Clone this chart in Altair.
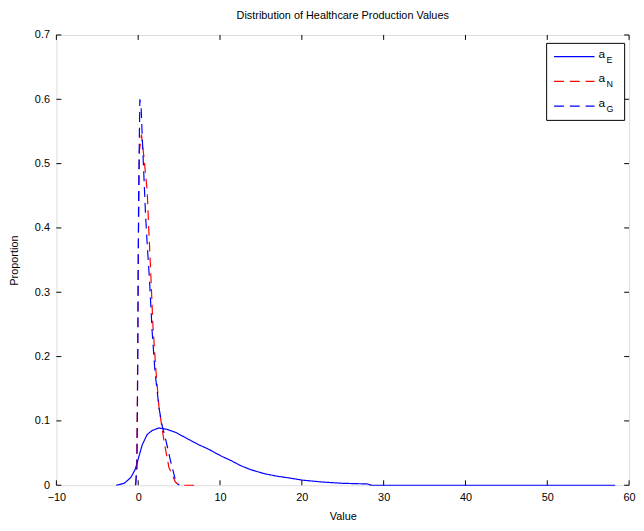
import altair as alt
import pandas as pd

# ---------------- data ----------------
title_text = "Distribution of Healthcare Production Values"
x_title = "Value"
y_title = "Proportion"
x_ticks = [-10, 0, 10, 20, 30, 40, 50, 60]
y_ticks = [0, 0.1, 0.2, 0.3, 0.4, 0.5, 0.6, 0.7]

series_names = ["a_E", "a_N", "a_G"]
legend_main = ["a", "a", "a"]
legend_sub = ["E", "N", "G"]

aE_x = [-2.7, -1.7, -0.9, -0.35, 0.05, 0.5, 1.1, 1.7, 2.5, 3.5, 4.6, 6.2, 7.4, 8.6,
        10.2, 11.4, 12.6, 13.8, 15.4, 17.0, 18.6, 20.0, 22.5, 25.0, 28.0, 28.5, 58.3]
aE_y = [0.0, 0.003, 0.012, 0.025, 0.043, 0.063, 0.079, 0.085, 0.089, 0.087, 0.082, 0.071,
        0.063, 0.056, 0.045, 0.038, 0.030, 0.024, 0.018, 0.014, 0.011, 0.008, 0.005,
        0.003, 0.002, 0.0, 0.0]

aN_x = [-0.35, -0.2, -0.1, 0.0, 0.15, 0.4, 0.7, 1.1, 1.3, 1.55, 1.8, 2.15, 2.55, 3.15,
        3.75, 4.55, 5.0, 7.0]
aN_y = [0.0, 0.02, 0.13, 0.35, 0.52, 0.545, 0.51, 0.457, 0.396, 0.325, 0.248, 0.181,
        0.12, 0.069, 0.028, 0.005, 0.0, 0.0]

aG_x = [-0.3, -0.15, -0.05, 0.05, 0.2, 0.35, 0.5, 0.9, 1.1, 1.4, 1.7, 2.05, 2.55, 2.9,
        3.4, 3.95, 4.55, 5.0]
aG_y = [0.0, 0.03, 0.2, 0.45, 0.60, 0.59, 0.54, 0.42, 0.375, 0.315, 0.24, 0.177, 0.12,
        0.094, 0.069, 0.038, 0.008, 0.0]

series_x = [aE_x, aN_x, aG_x]
series_y = [aE_y, aN_y, aG_y]

# ---------------- styles ----------------
colors = ["#0000ff", "#ff0000", "#0000ff"]
dashes = [[1, 0], [10, 6], [10, 6]]
FONT = "Liberation Sans"
W, H = 580, 456
TICK = 5

x_scale = alt.Scale(domain=[-10, 60], nice=False, zero=False)
y_scale = alt.Scale(domain=[0, 0.7], nice=False, zero=False)

x_axis = alt.Axis(values=x_ticks, title=x_title, ticks=False, tickSize=0, domain=False,
                  grid=False, labelPadding=6, titlePadding=9, labelFlush=False,
                  labelOverlap=False, labelFontSize=11, titleFontSize=11,
                  labelFont=FONT, titleFont=FONT, labelColor="#000", titleColor="#000",
                  titleFontWeight="normal")
y_axis = alt.Axis(values=y_ticks, title=y_title, ticks=False, tickSize=0, domain=False,
                  grid=False, labelPadding=7, titlePadding=15, labelFlush=False,
                  labelOverlap=False, labelFontSize=11, titleFontSize=11,
                  labelFont=FONT, titleFont=FONT, labelColor="#000", titleColor="#000",
                  titleFontWeight="normal",
                  labelExpr="datum.value == 0 ? '0' : format(datum.value, '.1f')")

layers = []

# curves
for name, xs, ys, c, d in zip(series_names, series_x, series_y, colors, dashes):
    df = pd.DataFrame({"x": xs, "y": ys, "i": list(range(len(xs))), "series": name})
    layers.append(
        alt.Chart(df).mark_line(color=c, strokeDash=d, strokeWidth=1.2).encode(
            x=alt.X("x:Q", scale=x_scale, axis=x_axis),
            y=alt.Y("y:Q", scale=y_scale, axis=y_axis),
            order="i:Q",
        )
    )

# inward ticks (MATLAB-style box)
xt = pd.DataFrame({"x": x_ticks})
yt = pd.DataFrame({"y": y_ticks})
tick_style = dict(color="#000", strokeWidth=1)
layers.append(alt.Chart(xt).mark_rule(**tick_style).encode(
    x=alt.X("x:Q", scale=x_scale, axis=x_axis), y=alt.value(H), y2=alt.value(H - TICK)))
layers.append(alt.Chart(xt).mark_rule(**tick_style).encode(
    x=alt.X("x:Q", scale=x_scale, axis=x_axis), y=alt.value(0), y2=alt.value(TICK)))
layers.append(alt.Chart(yt).mark_rule(**tick_style).encode(
    y=alt.Y("y:Q", scale=y_scale, axis=y_axis), x=alt.value(0), x2=alt.value(TICK)))
layers.append(alt.Chart(yt).mark_rule(**tick_style).encode(
    y=alt.Y("y:Q", scale=y_scale, axis=y_axis), x=alt.value(W), x2=alt.value(W - TICK)))

# legend box
LX0, LX1, LY0, LY1 = 496.5, 575.5, 8.5, 86.5
one = pd.DataFrame({"k": [0]})
layers.append(alt.Chart(one).mark_rect(fill="white", stroke="#000", strokeWidth=1).encode(
    x=alt.value(LX0), x2=alt.value(LX1), y=alt.value(LY0), y2=alt.value(LY1)))

for i, (m, s, c, d) in enumerate(zip(legend_main, legend_sub, colors, dashes)):
    ry = 22 + 25 * i
    layers.append(alt.Chart(one).mark_rule(color=c, strokeDash=d, strokeWidth=1.2).encode(
        x=alt.value(504), x2=alt.value(545), y=alt.value(ry)))
    layers.append(alt.Chart(pd.DataFrame({"t": [m]})).mark_text(
        align="left", baseline="alphabetic", fontSize=12, font=FONT, color="#000").encode(
        x=alt.value(549), y=alt.value(ry + 1), text="t:N"))
    layers.append(alt.Chart(pd.DataFrame({"t": [s]})).mark_text(
        align="left", baseline="alphabetic", fontSize=9, font=FONT, color="#000").encode(
        x=alt.value(557), y=alt.value(ry + 6), text="t:N"))

chart = alt.layer(*layers).properties(
    width=W, height=H,
    title=alt.TitleParams(title_text, fontSize=11, font=FONT, fontWeight="normal",
                          color="#000", offset=8, anchor="middle"),
    autosize=alt.AutoSizeParams(type="none"),
    padding={"left": 49, "top": 24, "right": 7, "bottom": 40},
).configure_view(stroke="#000", strokeWidth=1).configure(background="white")

chart.save("out.html", embed_options={"renderer": "svg", "actions": False})
